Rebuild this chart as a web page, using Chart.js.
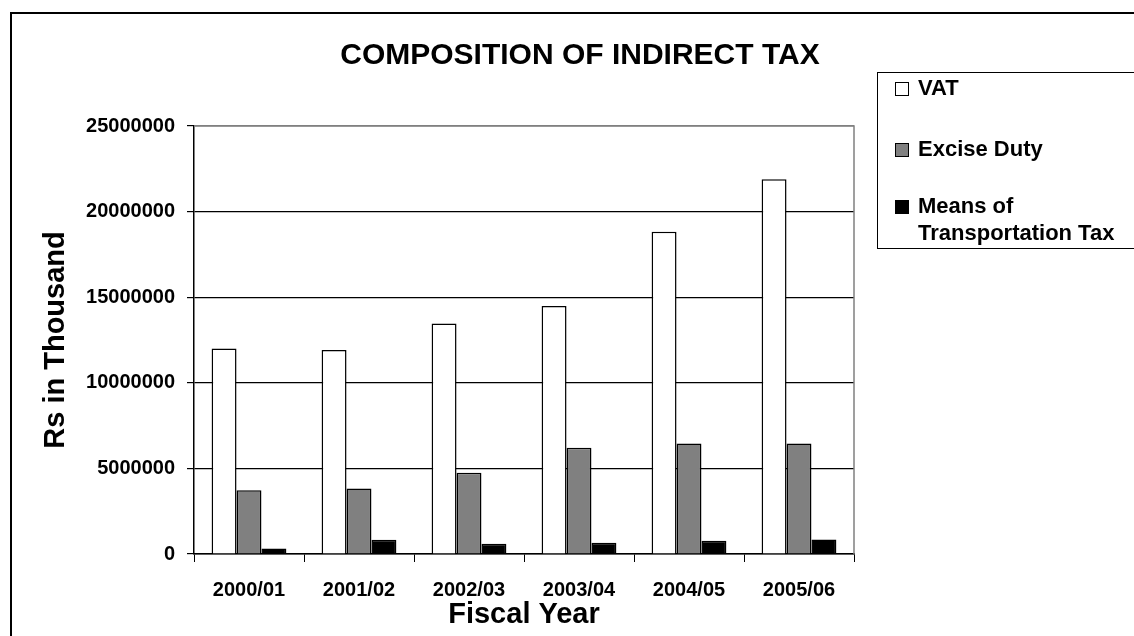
<!DOCTYPE html>
<html>
<head>
<meta charset="utf-8">
<script src="https://cdn.jsdelivr.net/npm/chart.js@4"></script>
<style>
  body { margin: 0; background: #fff; }
  #wrap { position: relative; width: 1134px; height: 636px; overflow: hidden; font-family: "Liberation Sans", Arial, sans-serif; }
  #frame { position: absolute; left: 10px; top: 12px; width: 1200px; height: 700px; border: 2px solid #000; box-sizing: border-box; }
  #chartTitle { position: absolute; left: 280px; width: 600px; top: 39px; text-align: center; font-weight: bold; font-size: 30px; line-height: 30px; color: #000; }
  #legend { position: absolute; left: 877px; top: 72px; width: 300px; height: 177px; border: 1px solid #000; box-sizing: border-box; }
  .item { position: absolute; left: 17px; font-weight: bold; font-size: 22px; line-height: 27px; color: #000; }
  .item .sw { position: absolute; left: 0; top: 8px; width: 14px; height: 14px; border: 1px solid #000; box-sizing: border-box; }
  .item .txt { position: absolute; left: 23px; top: 0; width: 215px; }
  canvas { position: absolute; left: 0; top: 0; }
</style>
</head>
<body>
<div id="wrap">
  <div id="frame"></div>
  <canvas id="taxChart" width="1134" height="636"></canvas>
  <div id="chartTitle">COMPOSITION OF INDIRECT TAX</div>
  <div id="legend"></div>
</div>
<script>
// Dados (Rs em milhares)
var fiscalYears = ['2000/01', '2001/02', '2002/03', '2003/04', '2004/05', '2005/06'];
var seriesNames = ['VAT', 'Excise Duty', 'Means of Transportation Tax'];
var vatValues = [12010000, 11910000, 13470000, 14480000, 18830000, 21890000];
var exciseValues = [3730000, 3830000, 4750000, 6210000, 6460000, 6460000];
var transportValues = [320000, 830000, 600000, 650000, 770000, 850000];
var yTicks = [0, 5000000, 10000000, 15000000, 20000000, 25000000];

var fills = ['#ffffff', '#808080', '#000000'];
var FONT = '"Liberation Sans", Arial, sans-serif';

// Moldura cinza do plot (topo e direita)
var plotFrame = {
  id: 'plotFrame',
  beforeDatasetsDraw: function(chart) {
    var a = chart.chartArea, ctx = chart.ctx;
    ctx.save();
    ctx.strokeStyle = '#808080';
    ctx.lineWidth = 1.5;
    ctx.beginPath();
    ctx.moveTo(a.left, a.top);
    ctx.lineTo(a.right, a.top);
    ctx.lineTo(a.right, a.bottom);
    ctx.stroke();
    ctx.restore();
  }
};

var ctx = document.getElementById('taxChart').getContext('2d');
var chart = new Chart(ctx, {
  type: 'bar',
  data: {
    labels: fiscalYears,
    datasets: [{
      label: seriesNames[0],
      data: vatValues,
      backgroundColor: fills[0],
      borderColor: '#000',
      borderWidth: 1.5
    }, {
      label: seriesNames[1],
      data: exciseValues,
      backgroundColor: fills[1],
      borderColor: '#000',
      borderWidth: 1.5
    }, {
      label: seriesNames[2],
      data: transportValues,
      backgroundColor: fills[2],
      borderColor: '#000',
      borderWidth: 1.5
    }]
  },
  options: {
    responsive: false,
    animation: false,
    categoryPercentage: 0.68,
    barPercentage: 1.0,
    layout: { padding: { left: 10, right: 280, top: 126, bottom: 0 } },
    plugins: {
      legend: { display: false },
      title: { display: false },
      tooltip: { enabled: false }
    },
    scales: {
      x: {
        afterFit: function(s) { s.height = 82; },
        grid: { drawOnChartArea: false, drawTicks: true, tickLength: 8, color: '#000', tickColor: '#000' },
        border: { display: true, color: '#000', width: 1.5 },
        ticks: { color: '#000', padding: 16, font: { family: FONT, size: 20, weight: 'bold' } },
        title: {
          display: true,
          text: 'Fiscal Year',
          color: '#000',
          padding: { top: 0, bottom: 4 },
          font: { family: FONT, size: 29, weight: 'bold' }
        }
      },
      y: {
        min: 0,
        max: 25000000,
        afterFit: function(s) { s.width = 184; },
        afterBuildTicks: function(s) {
          s.ticks = yTicks.map(function(v) { return { value: v }; });
        },
        grid: {
          color: function(c) { return c.tick && c.tick.value === 25000000 ? '#808080' : '#000'; },
          tickColor: '#000',
          lineWidth: 1.2,
          tickLength: 7
        },
        border: { display: true, color: '#000', width: 1.5 },
        ticks: {
          color: '#000',
          padding: 12,
          font: { family: FONT, size: 20, weight: 'bold' },
          callback: function(v) { return String(v); }
        },
        title: {
          display: true,
          text: 'Rs in Thousand',
          color: '#000',
          padding: { top: 29, bottom: 0 },
          font: { family: FONT, size: 29, weight: 'bold' }
        }
      }
    }
  },
  plugins: [plotFrame]
});

// Legenda em HTML montada a partir das séries
function buildLegend() {
  var box = document.getElementById('legend');
  var rowTops = [1, 62, 119];
  seriesNames.forEach(function(name, i) {
    var item = document.createElement('div');
    item.className = 'item';
    item.style.top = rowTops[i] + 'px';
    var sw = document.createElement('span');
    sw.className = 'sw';
    sw.style.background = fills[i];
    var txt = document.createElement('span');
    txt.className = 'txt';
    txt.textContent = name;
    item.appendChild(sw);
    item.appendChild(txt);
    box.appendChild(item);
  });
}
buildLegend();
</script>
</body>
</html>
